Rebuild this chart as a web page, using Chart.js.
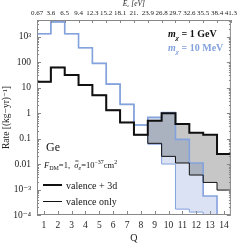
<!DOCTYPE html>
<html>
<head>
<meta charset="utf-8">
<script src="https://cdn.jsdelivr.net/npm/chart.js@4/dist/chart.umd.min.js"></script>
<style>
  html, body { margin: 0; padding: 0; background: #fff; }
</style>
</head>
<body>
<canvas id="chart" width="240" height="244"></canvas>
<script>
// bins Q = 1..14, rate in events/(kg yr)
const Q = [1, 2, 3, 4, 5, 6, 7, 8, 9, 10, 11, 12, 13, 14];
const energyLabels = ['0.67', '3.6', '6.5', '9.4', '12.3', '15.2', '18.1', '21.', '23.9', '26.8', '29.7', '32.6', '35.5', '38.4', '41.3'];

const gevValence3d = [17, 62, 31, 12.6, 5, 1.3, 0.43, 0.14, 0.5, 0.98, 0.37, 0.17, 0.14, 0.025];
const gevValence = [17, 62, 31, 12.6, 5, 1.3, 0.43, 0.14, 0.065, 0.02, 0.011, 0.0037, 0.0019, 0.00095];
const mevValence3d = [1300, 3800, 1300, 365, 89, 13.7, 2.2, 0.34, 0.68, 1.05, 0.093, 0.011, 0.00056, 0.00003];
const mevValence = [1300, 3800, 1300, 365, 89, 13.7, 2.2, 0.34, 0.06, 0.01, 0.00017, 0.00013, 0.00001, 0.00001];

const yTicks = [1e-4, 1e-3, 1e-2, 0.1, 1, 10, 100, 1000];
const yTickLabels = ['10⁻⁴', '10⁻³', '0.01', '0.1', '1', '10', '100', '10³'];

const SERIF = "'Liberation Serif', 'DejaVu Serif', serif";
const BLUE = '#84a2dc';

// histogram -> step points at bin edges
function steps(vals) {
    const pts = vals.map((v, i) => ({ x: Q[i] - 0.5, y: v }));
    pts.push({ x: Q[Q.length - 1] + 0.5, y: vals[vals.length - 1] });
    return pts;
}

function drawRuns(ctx, x, y, runs) {
    for (const r of runs) {
        ctx.font = r.f;
        ctx.fillStyle = r.c || '#111';
        ctx.fillText(r.t, x, y + (r.dy || 0));
        const w = ctx.measureText(r.t).width;
        if (r.bar) {
            ctx.strokeStyle = r.c || '#111';
            ctx.lineWidth = 0.8;
            ctx.beginPath();
            ctx.moveTo(x + 1, y - 7);
            ctx.lineTo(x + w, y - 7);
            ctx.stroke();
        }
        x += w;
    }
    return x;
}

const decor = {
    id: 'decor',
    afterDatasetsDraw(chart) {
        const { ctx, chartArea: a, scales } = chart;
        ctx.save();
        ctx.strokeStyle = '#888';
        ctx.lineWidth = 1;
        ctx.strokeRect(a.left + 0.5, a.top + 0.5, a.width - 1, a.height - 1);

        // log ticks, left and right, inward
        ctx.beginPath();
        for (let d = -4; d <= 3; d++) {
            for (let m = 1; m <= 9; m++) {
                const v = m * Math.pow(10, d);
                if (v < 1e-4 || v > 4500) continue;
                const y = Math.round(scales.y.getPixelForValue(v)) + 0.5;
                const len = m === 1 ? 4 : 2;
                ctx.moveTo(a.left, y); ctx.lineTo(a.left + len, y);
                ctx.moveTo(a.right, y); ctx.lineTo(a.right - len, y);
            }
        }
        Q.forEach(q => {
            const x = Math.round(scales.x.getPixelForValue(q)) + 0.5;
            ctx.moveTo(x, a.bottom); ctx.lineTo(x, a.bottom - 4);
        });
        energyLabels.forEach((_, i) => {
            const x = Math.round(scales.x2.getPixelForValue(i + 0.5)) + 0.5;
            ctx.moveTo(x, a.top); ctx.lineTo(x, a.top + 3);
        });
        ctx.stroke();

        // mass labels
        ctx.textBaseline = 'alphabetic';
        drawRuns(ctx, 168, 37, [
            { t: 'm', f: `italic bold 10px ${SERIF}` },
            { t: 'χ', f: `italic bold 7px ${SERIF}`, dy: 2.5 },
            { t: ' = 1 GeV', f: `bold 10px ${SERIF}` }
        ]);
        drawRuns(ctx, 168, 51, [
            { t: 'm', f: `italic bold 10px ${SERIF}`, c: BLUE },
            { t: 'χ', f: `italic bold 7px ${SERIF}`, dy: 2.5, c: BLUE },
            { t: ' = 10 MeV', f: `bold 10px ${SERIF}`, c: BLUE }
        ]);

        drawRuns(ctx, 46, 151, [{ t: 'Ge', f: `12px ${SERIF}` }]);

        drawRuns(ctx, 44, 168, [
            { t: 'F', f: `italic 8.5px ${SERIF}` },
            { t: 'DM', f: `6px ${SERIF}`, dy: 2 },
            { t: '=1,  ', f: `8.5px ${SERIF}` },
            { t: 'σ', f: `italic 8.5px ${SERIF}`, bar: true },
            { t: 'e', f: `italic 6px ${SERIF}`, dy: 2 },
            { t: '=10', f: `8.5px ${SERIF}` },
            { t: '−37', f: `6px ${SERIF}`, dy: -4 },
            { t: 'cm', f: `8.5px ${SERIF}` },
            { t: '2', f: `6px ${SERIF}`, dy: -4 }
        ]);

        // line legend
        ctx.strokeStyle = '#111';
        ctx.lineWidth = 2;
        ctx.beginPath(); ctx.moveTo(43, 185); ctx.lineTo(62, 185); ctx.stroke();
        ctx.lineWidth = 1;
        ctx.beginPath(); ctx.moveTo(43, 201.5); ctx.lineTo(62, 201.5); ctx.stroke();
        drawRuns(ctx, 66, 188.5, [{ t: 'valence + 3d', f: `10px ${SERIF}` }]);
        drawRuns(ctx, 66, 205, [{ t: 'valence only', f: `10px ${SERIF}` }]);
        ctx.restore();
    }
};

new Chart(document.getElementById('chart'), {
    type: 'line',
    data: {
        datasets: [
            { label: '10 MeV valence + 3d', data: steps(mevValence3d), borderColor: BLUE, borderWidth: 1.6, order: 2, fill: false },
            { label: '10 MeV valence only', data: steps(mevValence), borderColor: BLUE, borderWidth: 1, order: 3,
              fill: '-1', backgroundColor: 'rgba(70,110,200,0.2)' },
            { label: '1 GeV valence + 3d', data: steps(gevValence3d), borderColor: '#111', borderWidth: 2, order: 0, fill: false },
            { label: '1 GeV valence only', data: steps(gevValence), borderColor: '#111', borderWidth: 1, order: 1,
              fill: '-1', backgroundColor: 'rgba(0,0,0,0.22)' }
        ]
    },
    options: {
        responsive: false,
        animation: false,
        devicePixelRatio: 1,
        layout: { padding: { left: 0, right: 6, top: 0, bottom: 0 } },
        elements: {
            line: { stepped: true, tension: 0, borderJoinStyle: 'miter', borderCapStyle: 'butt' },
            point: { radius: 0 }
        },
        plugins: {
            legend: { display: false },
            tooltip: { enabled: false },
            filler: { drawTime: 'beforeDatasetsDraw' }
        },
        scales: {
            x: {
                type: 'linear', position: 'bottom', min: 0.5, max: 14.5,
                afterBuildTicks: s => { s.ticks = Q.map(v => ({ value: v })); },
                afterFit: s => { s.height = 29; },
                grid: { display: false, drawTicks: false },
                border: { display: false },
                ticks: { autoSkip: false, maxRotation: 0, padding: 5, color: '#222',
                         font: { family: SERIF, size: 9.5 }, callback: v => String(v) },
                title: { display: true, text: 'Q', color: '#222', padding: 0, font: { family: SERIF, size: 10 } }
            },
            x2: {
                type: 'linear', position: 'top', min: 0.5, max: 14.5,
                afterBuildTicks: s => { s.ticks = energyLabels.map((_, i) => ({ value: i + 0.5 })); },
                afterFit: s => { s.height = 20; },
                grid: { display: false, drawTicks: false },
                border: { display: false },
                ticks: { autoSkip: false, maxRotation: 0, padding: 3, color: '#222',
                         font: { family: SERIF, size: 7 }, callback: (v, i) => energyLabels[i] },
                title: { display: true, text: 'Eₑ [eV]', color: '#222', padding: 0,
                         font: { family: SERIF, size: 7.5, style: 'italic' } }
            },
            y: {
                type: 'logarithmic', min: 1e-4, max: 4500,
                afterBuildTicks: s => { s.ticks = yTicks.map(v => ({ value: v })); },
                afterFit: s => { s.width = 37; },
                grid: { display: false, drawTicks: false },
                border: { display: false },
                ticks: { autoSkip: false, padding: 6, color: '#222',
                         font: { family: SERIF, size: 9.5 }, callback: (v, i) => yTickLabels[i] },
                title: { display: true, text: 'Rate [(kg−yr)⁻¹]', color: '#222', padding: { top: 1, bottom: 0 },
                         font: { family: SERIF, size: 9.5 } }
            }
        }
    },
    plugins: [decor]
});
</script>
</body>
</html>
